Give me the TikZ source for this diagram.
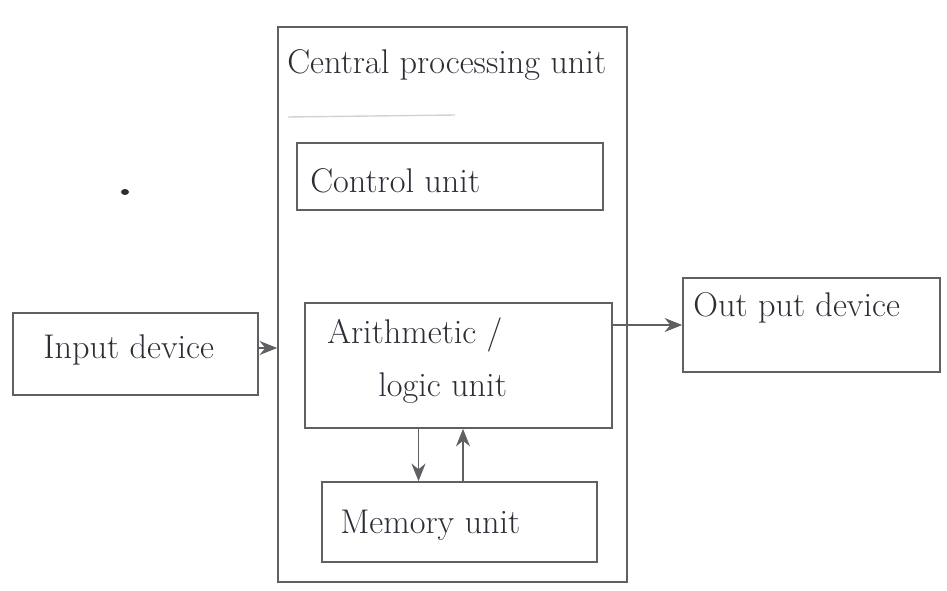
\documentclass[tikz,border=0pt]{standalone}
\usetikzlibrary{arrows.meta}
\definecolor{pen}{RGB}{95,95,100}
\definecolor{ink}{RGB}{45,45,55}
\tikzset{
    unitbox/.style={draw=pen, line width=1pt, inner sep=0pt},
    lbl/.style={anchor=west, inner sep=0pt, text=ink, font=\fontsize{19.5}{23}\selectfont},
    flow/.style={draw=pen, line width=1pt, -{Stealth[length=10pt,width=8pt]}}
}
\begin{document}
\begin{tikzpicture}[x=0.02cm, y=-0.02cm]
    \useasboundingbox (0,0) rectangle (947,591);

    % the processor and its parts
    \node[unitbox, minimum width=6.98cm, minimum height=11.1cm] (cpu) at (452.5,304.5) {};
    \node[lbl] (cpulbl) at (287,65) {Central processing unit};
    \draw[gray!35, line width=0.8pt] (288,117) -- (455,115);

    \node[unitbox, minimum width=6.12cm, minimum height=1.34cm] (ctrl) at (450,176.5) {};
    \node[lbl] (ctrllbl) at (310,181) {Control unit};

    \node[unitbox, minimum width=6.14cm, minimum height=2.5cm] (alu) at (458.5,365.5) {};
    \node[lbl] (alulbla) at (327,335) {Arithmetic /};
    \node[lbl] (alulblb) at (378,388) {logic unit};

    \node[unitbox, minimum width=5.5cm, minimum height=1.6cm] (mem) at (459.5,522) {};
    \node[lbl] (memlbl) at (340,525) {Memory unit};

    % devices outside
    \node[unitbox, minimum width=4.9cm, minimum height=1.64cm] (in) at (135.5,354) {};
    \node[lbl] (inlbl) at (43,350) {Input device};

    \node[unitbox, minimum width=5.14cm, minimum height=1.88cm] (out) at (811.5,325) {};
    \node[lbl] (outlbl) at (693,308) {Out put device};

    \fill[ink] (125,192) ellipse (4 and 3);

    % connectors
    \draw[flow] (in.east |- 0,348) -- (cpu.west |- 0,348);
    \draw[flow] (alu.east |- out.west) -- (out.west);
    \draw[flow] ([xshift=-0.8cm]alu.south) -- ([xshift=-0.8cm]alu.south |- mem.north);
    \draw[flow] ([xshift=0.07cm]mem.north) -- ([xshift=0.07cm]mem.north |- alu.south);
\end{tikzpicture}
\end{document}
